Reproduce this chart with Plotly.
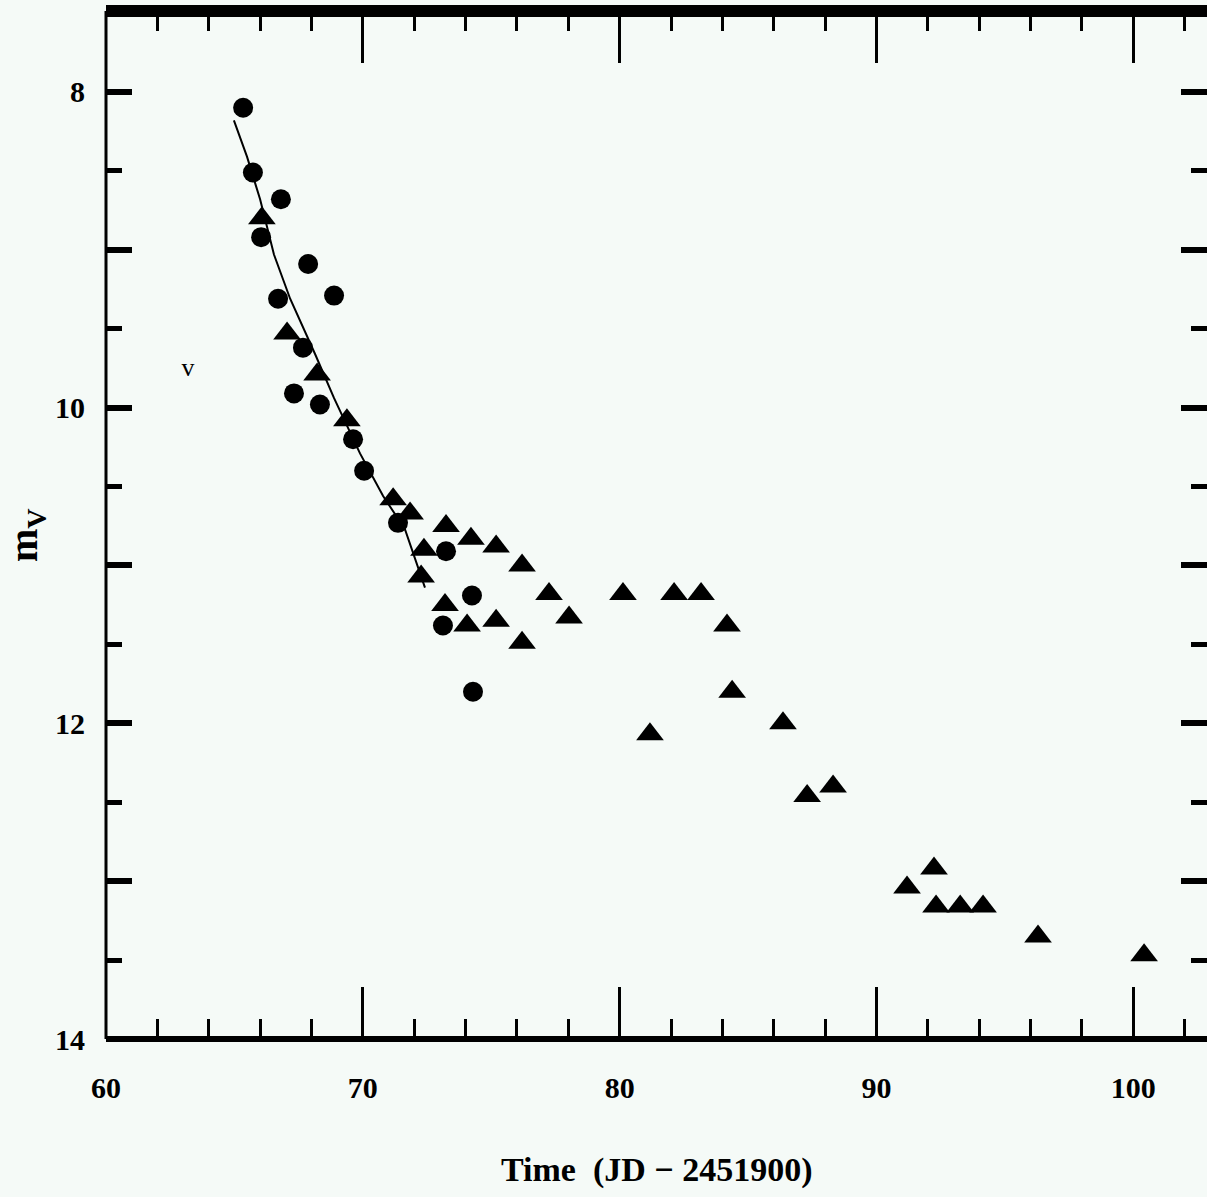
import plotly.graph_objects as go

# ---- data ----
circle_jd = [65.34, 65.72, 66.81, 66.04, 67.87, 68.88, 66.70, 67.67, 67.32, 68.33,
             69.62, 70.05, 71.37, 73.24, 73.12, 74.25, 74.29]
circle_mag = [8.10, 8.51, 8.68, 8.92, 9.09, 9.29, 9.31, 9.62, 9.91, 9.98,
              10.20, 10.40, 10.73, 10.91, 11.38, 11.19, 11.80]

tri_jd = [66.07, 67.05, 68.22, 69.38, 71.18, 71.84, 72.38, 72.27, 73.24, 74.21,
          75.19, 76.20, 77.25, 80.13, 82.12, 83.17, 84.18, 84.38, 73.20, 74.06,
          75.19, 76.20, 78.03, 81.18, 86.36, 87.30, 88.31, 92.24, 91.19, 92.32,
          93.26, 94.15, 96.29, 100.42]
tri_mag = [8.80, 9.53, 9.79, 10.08, 10.58, 10.67, 10.90, 11.07, 10.75, 10.83,
           10.88, 11.00, 11.18, 11.18, 11.18, 11.18, 11.38, 11.80, 11.25, 11.38,
           11.35, 11.49, 11.33, 12.07, 12.00, 12.46, 12.40, 12.92, 13.04, 13.16,
           13.16, 13.16, 13.35, 13.47]

curve_jd = [64.98, 65.49, 66.00, 66.54, 67.17, 68.14, 68.88, 69.89, 70.79, 71.64, 72.42]
curve_mag = [8.18, 8.41, 8.68, 9.03, 9.31, 9.66, 9.94, 10.29, 10.56, 10.77, 11.14]

limit_jd = [63.19]
limit_mag = [9.76]

x_tickvals = [60, 70, 80, 90, 100]
x_ticktext = ["60", "70", "80", "90", "100"]
y_tickvals = [8, 9, 10, 11, 12, 13, 14]
y_ticktext = ["8", " ", "10", " ", "12", " ", "14"]

BG = "#f5faf7"
FONT = "Liberation Serif"

fig = go.Figure()
fig.add_trace(go.Scatter(x=curve_jd, y=curve_mag, mode="lines",
                         line=dict(color="black", width=2), hoverinfo="skip"))
fig.add_trace(go.Scatter(x=circle_jd, y=circle_mag, mode="markers",
                         marker=dict(symbol="circle", size=20, color="black")))
fig.add_trace(go.Scatter(x=tri_jd, y=tri_mag, mode="markers",
                         marker=dict(symbol="triangle-up", size=24, color="black")))
fig.add_trace(go.Scatter(x=limit_jd, y=limit_mag, mode="text", text=["v"],
                         textfont=dict(size=26, color="black", family=FONT)))

fig.update_layout(
    width=1207, height=1197,
    margin=dict(l=106, r=0, t=11, b=158),
    paper_bgcolor=BG, plot_bgcolor=BG, showlegend=False,
    font=dict(family=FONT, color="black"),
)

fig.update_xaxes(
    range=[60, 102.87], tickvals=x_tickvals, ticktext=x_ticktext,
    ticks="inside", ticklen=52, tickwidth=3, tickcolor="black",
    mirror="ticks", showline=False, showgrid=False, zeroline=False,
    minor=dict(dtick=2, tick0=60, ticks="inside", ticklen=20, tickwidth=3,
               tickcolor="black", showgrid=False),
    tickfont=dict(size=30, family=FONT, weight="bold"),
    ticklabelstandoff=28,
)
fig.update_yaxes(
    range=[14, 7.487], tickvals=y_tickvals, ticktext=y_ticktext,
    ticks="inside", ticklen=26, tickwidth=6, tickcolor="black",
    mirror="ticks", showline=False, showgrid=False, zeroline=False,
    minor=dict(dtick=0.5, tick0=7.5, ticks="inside", ticklen=16, tickwidth=5,
               tickcolor="black", showgrid=False),
    tickfont=dict(size=30, family=FONT, weight="bold"),
    ticklabelstandoff=20,
)

# frame lines
fig.add_shape(type="line", xref="paper", yref="paper", x0=0, x1=1, y0=1, y1=1,
              line=dict(color="black", width=12))
fig.add_shape(type="line", xref="paper", yref="paper", x0=0, x1=1, y0=0, y1=0,
              line=dict(color="black", width=6))
fig.add_shape(type="line", xref="paper", yref="paper", x0=0, x1=0, y0=0, y1=1,
              line=dict(color="black", width=3))

fig.add_annotation(text="Time\u00a0\u00a0(JD \u2212 2451900)", xref="paper", yref="paper",
                   x=0.5, y=-0.1274, xanchor="center", yanchor="middle", showarrow=False,
                   font=dict(size=34, family=FONT, weight="bold", color="black"))
fig.add_annotation(text="m<sub>V</sub>", xref="paper", yref="paper",
                   x=-0.072, y=0.49, xanchor="center", yanchor="middle", showarrow=False,
                   textangle=-90,
                   font=dict(size=40, family=FONT, weight="bold", color="black"))

fig.write_html("out.html")
